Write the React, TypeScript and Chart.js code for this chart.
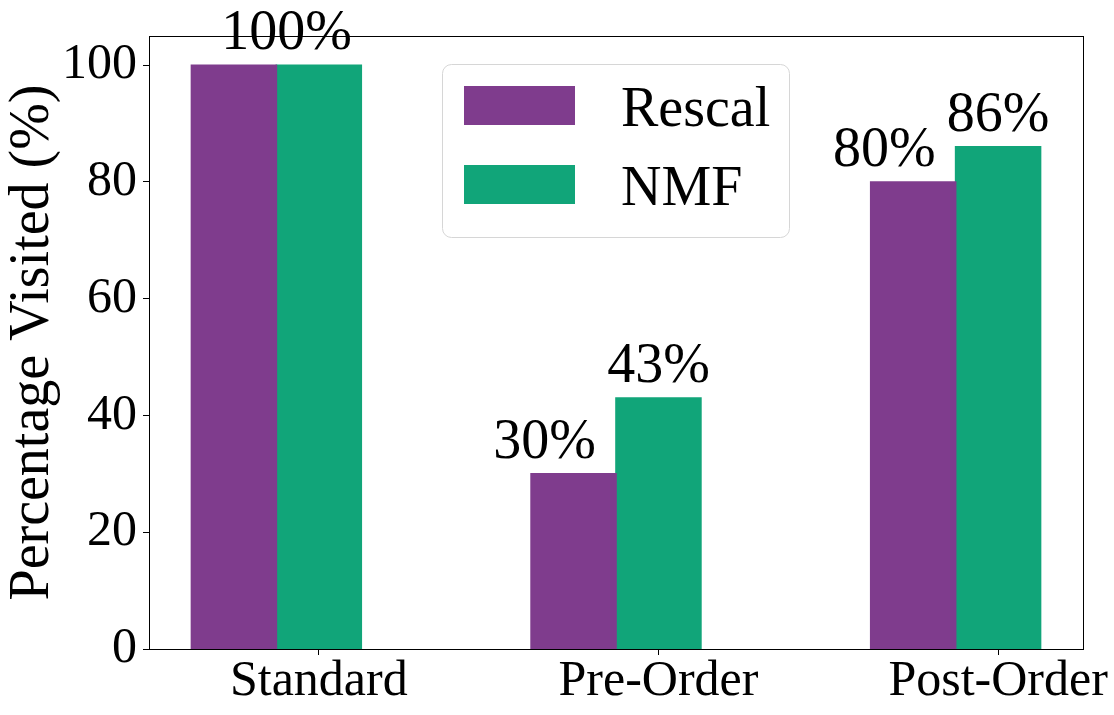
import React, { useEffect, useRef } from "react";
import { Chart, registerables } from "chart.js";

Chart.register(...registerables);

const categories = ["Standard", "Pre-Order", "Post-Order"];
const groupPositions = [0, 1, 2];
const rescalValues = [100, 30, 80];
const nmfValues = [100, 43, 86];
const seriesNames = ["Rescal", "NMF"];
const seriesColors = ["#7F3C8D", "#11A579"];
const yTickValues = [0, 20, 40, 60, 80, 100];
const xTickValues = [0.125, 1.125, 2.125];
const valueLabelTexts = ["100%", "30%", "43%", "80%", "86%"];
const valueLabelX = [0.03, 0.79, 1.125, 1.79, 2.125];
const valueLabelY = [100, 30, 43, 80, 86];
const yTitle = "Percentage Visited (%)";

const FONT = '"Liberation Serif", "Times New Roman", serif';

const overlayPlugin = {
  id: "overlay",
  afterDraw(chart: any) {
    const { ctx, chartArea: a, scales } = chart;
    ctx.save();
    // frame
    ctx.strokeStyle = "#000";
    ctx.lineWidth = 1;
    ctx.strokeRect(
      Math.round(a.left) + 0.5,
      Math.round(a.top) + 0.5,
      Math.round(a.right - a.left),
      Math.round(a.bottom - a.top)
    );

    // legend
    const bx = a.left + 293.5;
    const by = a.top + 28.5;
    const bw = 347;
    const bh = 173;
    ctx.beginPath();
    ctx.roundRect(bx, by, bw, bh, 9);
    ctx.fillStyle = "rgba(255,255,255,0.8)";
    ctx.fill();
    ctx.strokeStyle = "#d6d6d6";
    ctx.lineWidth = 1;
    ctx.stroke();
    ctx.font = `56px ${FONT}`;
    ctx.textAlign = "left";
    ctx.textBaseline = "alphabetic";
    chart.data.datasets.forEach((ds: any, i: number) => {
      const sy = by + 21.5 + i * 79;
      ctx.fillStyle = ds.backgroundColor;
      ctx.fillRect(bx + 21.5, sy, 111, 39);
      ctx.fillStyle = "#000";
      ctx.fillText(ds.label, bx + 178.5, sy + 40);
    });

    // value labels
    ctx.font = `56px ${FONT}`;
    ctx.fillStyle = "#000";
    ctx.textAlign = "center";
    ctx.textBaseline = "alphabetic";
    valueLabelTexts.forEach((t, i) => {
      const x = scales.x.getPixelForValue(valueLabelX[i]);
      const y = scales.y.getPixelForValue(valueLabelY[i]) - 16;
      ctx.fillText(t, x, y);
    });
    ctx.restore();
  },
};

export default function App() {
  const canvasRef = useRef<HTMLCanvasElement | null>(null);

  useEffect(() => {
    if (!canvasRef.current) return;
    const chart = new Chart(canvasRef.current, {
      type: "bar",
      data: {
        datasets: [
          {
            label: seriesNames[0],
            data: groupPositions.map((x, i) => ({ x, y: rescalValues[i] })),
            backgroundColor: seriesColors[0],
            borderWidth: 0,
            inflateAmount: 0.8,
          },
          {
            label: seriesNames[1],
            data: groupPositions.map((x, i) => ({ x, y: nmfValues[i] })),
            backgroundColor: seriesColors[1],
            borderWidth: 0,
            inflateAmount: 0.8,
          },
        ],
      },
      options: {
        animation: false,
        responsive: true,
        maintainAspectRatio: false,
        categoryPercentage: 0.5,
        barPercentage: 1,
        layout: { padding: { top: 36, right: 31, left: 0, bottom: 0 } },
        plugins: {
          legend: { display: false },
          tooltip: { enabled: false },
        },
        scales: {
          x: {
            type: "linear",
            min: -0.375,
            max: 2.375,
            offset: false,
            afterBuildTicks: (scale: any) => {
              scale.ticks = xTickValues.map((v) => ({ value: v }));
            },
            afterFit: (scale: any) => {
              scale.height = 66;
            },
            grid: {
              display: true,
              offset: false,
              drawOnChartArea: false,
              drawTicks: true,
              tickLength: 6,
              tickColor: "#000",
              tickWidth: 1,
            },
            border: { display: false },
            ticks: {
              autoSkip: false,
              maxRotation: 0,
              minRotation: 0,
              padding: 2,
              color: "#000",
              font: { family: FONT, size: 50, lineHeight: 1 },
              callback: (_v: any, i: number) => categories[i],
            },
          },
          y: {
            type: "linear",
            min: 0,
            max: 105,
            afterBuildTicks: (scale: any) => {
              scale.ticks = yTickValues.map((v) => ({ value: v }));
            },
            afterFit: (scale: any) => {
              scale.width = 149;
            },
            grid: {
              display: true,
              drawOnChartArea: false,
              drawTicks: true,
              tickLength: 6,
              tickColor: "#000",
              tickWidth: 1,
            },
            border: { display: false },
            ticks: {
              padding: 6,
              color: "#000",
              font: { family: FONT, size: 50 },
              callback: (v: any) => String(v),
            },
            title: {
              display: true,
              text: yTitle,
              color: "#000",
              padding: { top: 0, bottom: 0 },
              font: { family: FONT, size: 56 },
            },
          },
        },
      },
      plugins: [overlayPlugin],
    } as any);
    return () => chart.destroy();
  }, []);

  return (
    <div
      style={{
        position: "fixed",
        left: 0,
        top: 0,
        width: 1114,
        height: 715,
        background: "#fff",
      }}
    >
      <canvas ref={canvasRef} />
    </div>
  );
}
